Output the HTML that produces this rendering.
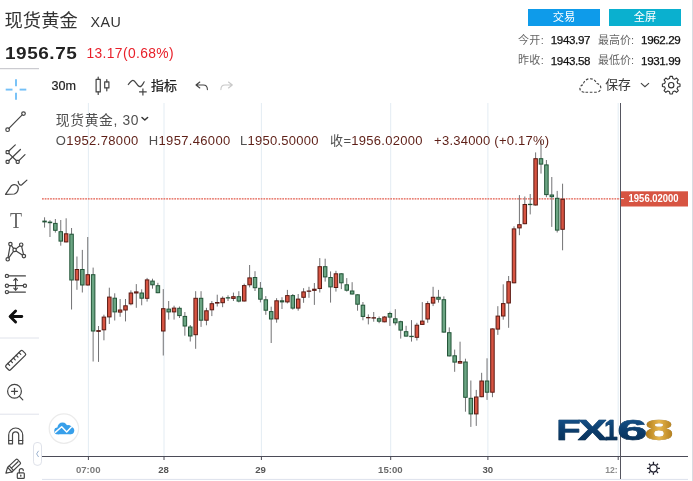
<!DOCTYPE html>
<html lang="zh-CN">
<head>
<meta charset="utf-8">
<title>现货黄金 XAU</title>
<style>
html,body{margin:0;padding:0;background:#fff;}
body{width:693px;height:481px;position:relative;overflow:hidden;font-family:"Liberation Sans", "Noto Sans CJK SC", sans-serif;color:#333;}
.abs{position:absolute;white-space:nowrap;line-height:1;}
.hdr-title{left:4.6px;top:12.3px;font-size:18.3px;color:#333;}
.hdr-code{left:90.6px;top:14.6px;font-size:14.3px;letter-spacing:0.45px;color:#333;}
.hdr-price{left:4.8px;top:45.2px;font-size:17.4px;font-weight:bold;color:#222;letter-spacing:0.5px;transform:scaleX(1.09);transform-origin:0 0;}
.hdr-chg{left:86.4px;top:47.2px;font-size:13.8px;letter-spacing:0.4px;color:#e8202a;}
.btn{top:9.2px;height:16.5px;width:72px;color:#fff;font-size:11.3px;text-align:center;line-height:16.5px;}
.btn1{left:528px;background:#0e9bea;}
.btn2{left:609px;background:#0ab0cf;}
.stat{font-size:11px;color:#666;}
.stat b{color:#111;font-weight:normal;font-size:11.6px;letter-spacing:-0.38px;-webkit-text-stroke:0.25px #111;}
.tb{font-size:12.5px;color:#222;}
.wk{stroke:#737375;stroke-width:1;}
.cr{fill:#d75442;stroke:#5b1a13;stroke-width:1;}
.cg{fill:#6ba583;stroke:#225437;stroke-width:1;}
.crd{fill:#5b1a13;}
.cgd{fill:#225437;}
.grid{stroke:#e3ecf3;stroke-width:1;}
.ic{fill:none;stroke:#444;stroke-width:1.2;stroke-linecap:round;stroke-linejoin:round;}
.icf{fill:#fff;stroke:#444;stroke-width:1.1;}
svg{position:absolute;left:0;top:0;}
svg text{font-family:"Liberation Sans", "Noto Sans CJK SC", sans-serif;}
</style>
</head>
<body>

<!-- header -->
<div class="abs hdr-title">现货黄金</div>
<div class="abs hdr-code">XAU</div>
<div class="abs hdr-price">1956.75</div>
<div class="abs hdr-chg">13.17(0.68%)</div>
<div class="abs btn btn1">交易</div>
<div class="abs btn btn2">全屏</div>
<div class="abs stat" style="left:517.9px;top:34.8px;letter-spacing:0.4px;">今开:</div>
<div class="abs stat" style="left:550.8px;top:34.3px;"><b>1943.97</b></div>
<div class="abs stat" style="left:597.9px;top:34.8px;">最高价:</div>
<div class="abs stat" style="left:641.1px;top:34.3px;"><b>1962.29</b></div>
<div class="abs stat" style="left:517.9px;top:55.4px;letter-spacing:0.4px;">昨收:</div>
<div class="abs stat" style="left:550.8px;top:54.9px;"><b>1943.58</b></div>
<div class="abs stat" style="left:597.9px;top:55.4px;">最低价:</div>
<div class="abs stat" style="left:641.1px;top:54.9px;"><b>1931.99</b></div>

<!-- top toolbar -->
<div class="abs tb" style="left:51.600px;top:80.200px;font-size:12.600px;-webkit-text-stroke:0.2px #222;">30m</div>
<div class="abs tb" style="left:151px;top:79px;font-size:13px;-webkit-text-stroke:0.25px #222;">指标</div>
<div class="abs tb" style="left:605.2px;top:79.4px;font-size:12.8px;color:#333;">保存</div>

<!-- chart + icons -->
<svg width="693" height="481" viewBox="0 0 693 481">
  <!-- separators -->
  <line x1="0" y1="68.700" x2="39" y2="68.700" stroke="#b9b9c0" stroke-width="0.900"/>
  <line x1="0" y1="338" x2="39" y2="338" stroke="#e0e3eb" stroke-width="1"/>
  <line x1="0" y1="414.2" x2="39" y2="414.2" stroke="#e0e3eb" stroke-width="1"/>
  <line x1="692.600" y1="0" x2="692.600" y2="481" stroke="#d6d9df" stroke-width="1"/>
  <line x1="42" y1="479.400" x2="688" y2="479.400" stroke="#dde1ec" stroke-width="1"/>
  <!-- grid -->
  <g class="grid">
    <line x1="88.4" y1="103" x2="88.4" y2="456"/>
    <line x1="164" y1="103" x2="164" y2="456"/>
    <line x1="261.4" y1="103" x2="261.4" y2="456"/>
    <line x1="390.7" y1="103" x2="390.7" y2="456"/>
    <line x1="487.9" y1="103" x2="487.9" y2="456"/>
    <line x1="618.2" y1="103" x2="618.2" y2="456"/>
  </g>
  <!-- last price line -->
  <line x1="42" y1="198.9" x2="620" y2="198.9" stroke="#e2594a" stroke-width="1.100" stroke-dasharray="1.750 0.950"/>
  <!-- candles -->
  <g id="candles">
<line x1="44.57" y1="217.3" x2="44.57" y2="227.6" class="wk"/>
<line x1="49.97" y1="220.2" x2="49.97" y2="237.0" class="wk"/>
<line x1="55.36" y1="219.0" x2="55.36" y2="232.6" class="wk"/>
<line x1="60.76" y1="220.0" x2="60.76" y2="245.7" class="wk"/>
<line x1="66.15" y1="218.3" x2="66.15" y2="242.4" class="wk"/>
<line x1="71.55" y1="228.0" x2="71.55" y2="309.5" class="wk"/>
<line x1="76.95" y1="256.5" x2="76.95" y2="289.8" class="wk"/>
<line x1="82.34" y1="249.9" x2="82.34" y2="292.5" class="wk"/>
<line x1="87.74" y1="237.0" x2="87.74" y2="285.5" class="wk"/>
<line x1="93.13" y1="267.6" x2="93.13" y2="361.5" class="wk"/>
<line x1="98.53" y1="326.0" x2="98.53" y2="361.9" class="wk"/>
<line x1="103.93" y1="314.7" x2="103.93" y2="340.3" class="wk"/>
<line x1="109.32" y1="287.7" x2="109.32" y2="324.0" class="wk"/>
<line x1="114.72" y1="293.3" x2="114.72" y2="320.5" class="wk"/>
<line x1="120.11" y1="299.0" x2="120.11" y2="316.8" class="wk"/>
<line x1="125.51" y1="299.0" x2="125.51" y2="321.4" class="wk"/>
<line x1="130.91" y1="290.4" x2="130.91" y2="305.3" class="wk"/>
<line x1="136.30" y1="284.1" x2="136.30" y2="307.8" class="wk"/>
<line x1="141.70" y1="289.3" x2="141.70" y2="305.3" class="wk"/>
<line x1="147.09" y1="277.9" x2="147.09" y2="301.6" class="wk"/>
<line x1="152.49" y1="278.7" x2="152.49" y2="288.7" class="wk"/>
<line x1="157.89" y1="282.8" x2="157.89" y2="293.2" class="wk"/>
<line x1="163.28" y1="289.1" x2="163.28" y2="355.5" class="wk"/>
<line x1="168.68" y1="301.0" x2="168.68" y2="319.6" class="wk"/>
<line x1="174.07" y1="305.7" x2="174.07" y2="319.6" class="wk"/>
<line x1="179.47" y1="306.5" x2="179.47" y2="318.0" class="wk"/>
<line x1="184.87" y1="312.0" x2="184.87" y2="335.7" class="wk"/>
<line x1="190.26" y1="325.0" x2="190.26" y2="341.5" class="wk"/>
<line x1="195.66" y1="291.2" x2="195.66" y2="348.8" class="wk"/>
<line x1="201.05" y1="291.2" x2="201.05" y2="326.9" class="wk"/>
<line x1="206.45" y1="307.8" x2="206.45" y2="325.3" class="wk"/>
<line x1="211.85" y1="301.0" x2="211.85" y2="316.1" class="wk"/>
<line x1="217.24" y1="294.7" x2="217.24" y2="306.5" class="wk"/>
<line x1="222.64" y1="296.4" x2="222.64" y2="307.2" class="wk"/>
<line x1="228.03" y1="295.3" x2="228.03" y2="301.0" class="wk"/>
<line x1="233.43" y1="292.6" x2="233.43" y2="301.0" class="wk"/>
<line x1="238.83" y1="291.2" x2="238.83" y2="302.4" class="wk"/>
<line x1="244.22" y1="283.7" x2="244.22" y2="301.5" class="wk"/>
<line x1="249.62" y1="265.0" x2="249.62" y2="287.4" class="wk"/>
<line x1="255.01" y1="271.2" x2="255.01" y2="291.0" class="wk"/>
<line x1="260.41" y1="282.0" x2="260.41" y2="302.4" class="wk"/>
<line x1="265.81" y1="296.1" x2="265.81" y2="314.8" class="wk"/>
<line x1="271.20" y1="306.7" x2="271.20" y2="343.0" class="wk"/>
<line x1="276.60" y1="298.2" x2="276.60" y2="322.7" class="wk"/>
<line x1="281.99" y1="297.2" x2="281.99" y2="309.0" class="wk"/>
<line x1="287.39" y1="289.9" x2="287.39" y2="303.4" class="wk"/>
<line x1="292.79" y1="294.0" x2="292.79" y2="309.6" class="wk"/>
<line x1="298.18" y1="294.0" x2="298.18" y2="310.7" class="wk"/>
<line x1="303.58" y1="288.2" x2="303.58" y2="302.8" class="wk"/>
<line x1="308.97" y1="286.8" x2="308.97" y2="297.8" class="wk"/>
<line x1="314.37" y1="283.0" x2="314.37" y2="304.9" class="wk"/>
<line x1="319.77" y1="258.1" x2="319.77" y2="292.5" class="wk"/>
<line x1="325.16" y1="258.7" x2="325.16" y2="281.6" class="wk"/>
<line x1="330.56" y1="271.4" x2="330.56" y2="302.6" class="wk"/>
<line x1="335.95" y1="270.8" x2="335.95" y2="291.6" class="wk"/>
<line x1="341.35" y1="273.3" x2="341.35" y2="289.1" class="wk"/>
<line x1="346.75" y1="278.1" x2="346.75" y2="291.6" class="wk"/>
<line x1="352.14" y1="282.2" x2="352.14" y2="294.5" class="wk"/>
<line x1="357.54" y1="294.3" x2="357.54" y2="310.7" class="wk"/>
<line x1="362.93" y1="302.0" x2="362.93" y2="320.3" class="wk"/>
<line x1="368.33" y1="314.4" x2="368.33" y2="324.4" class="wk"/>
<line x1="373.73" y1="312.0" x2="373.73" y2="321.7" class="wk"/>
<line x1="379.12" y1="316.5" x2="379.12" y2="323.2" class="wk"/>
<line x1="384.52" y1="316.1" x2="384.52" y2="322.3" class="wk"/>
<line x1="389.91" y1="311.7" x2="389.91" y2="325.9" class="wk"/>
<line x1="395.31" y1="309.2" x2="395.31" y2="325.3" class="wk"/>
<line x1="400.71" y1="320.7" x2="400.71" y2="338.6" class="wk"/>
<line x1="406.10" y1="325.8" x2="406.10" y2="336.6" class="wk"/>
<line x1="411.50" y1="320.1" x2="411.50" y2="341.6" class="wk"/>
<line x1="416.89" y1="322.8" x2="416.89" y2="340.5" class="wk"/>
<line x1="422.29" y1="302.1" x2="422.29" y2="324.9" class="wk"/>
<line x1="427.69" y1="301.2" x2="427.69" y2="322.8" class="wk"/>
<line x1="433.08" y1="286.8" x2="433.08" y2="306.1" class="wk"/>
<line x1="438.48" y1="289.9" x2="438.48" y2="302.6" class="wk"/>
<line x1="443.87" y1="296.4" x2="443.87" y2="332.6" class="wk"/>
<line x1="449.27" y1="327.4" x2="449.27" y2="356.4" class="wk"/>
<line x1="454.67" y1="349.6" x2="454.67" y2="371.8" class="wk"/>
<line x1="460.06" y1="341.7" x2="460.06" y2="363.6" class="wk"/>
<line x1="465.46" y1="358.7" x2="465.46" y2="411.7" class="wk"/>
<line x1="470.85" y1="380.5" x2="470.85" y2="426.9" class="wk"/>
<line x1="476.25" y1="389.9" x2="476.25" y2="425.9" class="wk"/>
<line x1="481.65" y1="372.8" x2="481.65" y2="397.2" class="wk"/>
<line x1="487.04" y1="358.3" x2="487.04" y2="399.9" class="wk"/>
<line x1="492.44" y1="328.4" x2="492.44" y2="397.2" class="wk"/>
<line x1="497.83" y1="306.2" x2="497.83" y2="334.9" class="wk"/>
<line x1="503.23" y1="284.3" x2="503.23" y2="319.7" class="wk"/>
<line x1="508.63" y1="276.0" x2="508.63" y2="327.8" class="wk"/>
<line x1="514.02" y1="226.3" x2="514.02" y2="283.3" class="wk"/>
<line x1="519.42" y1="195.1" x2="519.42" y2="235.2" class="wk"/>
<line x1="524.81" y1="196.5" x2="524.81" y2="224.2" class="wk"/>
<line x1="530.21" y1="194.0" x2="530.21" y2="214.4" class="wk"/>
<line x1="535.61" y1="152.4" x2="535.61" y2="205.5" class="wk"/>
<line x1="541.00" y1="140.6" x2="541.00" y2="173.6" class="wk"/>
<line x1="546.40" y1="160.0" x2="546.40" y2="197.2" class="wk"/>
<line x1="551.79" y1="177.0" x2="551.79" y2="226.9" class="wk"/>
<line x1="557.19" y1="190.9" x2="557.19" y2="232.5" class="wk"/>
<line x1="562.59" y1="183.7" x2="562.59" y2="250.3" class="wk"/>
<rect x="42.32" y="220.6" width="4.5" height="1.8" class="cgd"/>
<rect x="47.72" y="221.6" width="4.5" height="1.6" class="cgd"/>
<rect x="53.61" y="223.4" width="3.5" height="6.9" class="cg"/>
<rect x="59.01" y="231.7" width="3.5" height="9.4" class="cg"/>
<rect x="64.40" y="233.8" width="3.5" height="8.1" class="cr"/>
<rect x="69.80" y="234.2" width="3.5" height="45.8" class="cg"/>
<rect x="75.20" y="269.5" width="3.5" height="10.5" class="cr"/>
<rect x="80.59" y="269.5" width="3.5" height="15.5" class="cg"/>
<rect x="85.99" y="274.7" width="3.5" height="10.3" class="cr"/>
<rect x="91.38" y="274.7" width="3.5" height="56.3" class="cg"/>
<rect x="96.28" y="330.1" width="4.5" height="1.8" class="crd"/>
<rect x="102.18" y="317.1" width="3.5" height="12.7" class="cr"/>
<rect x="107.57" y="297.1" width="3.5" height="19.8" class="cr"/>
<rect x="112.97" y="298.2" width="3.5" height="13.7" class="cg"/>
<rect x="118.36" y="310.0" width="3.5" height="2.1" class="cr"/>
<rect x="123.76" y="305.8" width="3.5" height="4.2" class="cr"/>
<rect x="129.16" y="293.0" width="3.5" height="10.8" class="cr"/>
<rect x="134.55" y="291.9" width="3.5" height="1.1" class="cr"/>
<rect x="139.95" y="293.0" width="3.5" height="5.2" class="cg"/>
<rect x="145.34" y="279.9" width="3.5" height="18.4" class="cr"/>
<rect x="150.74" y="281.1" width="3.5" height="3.7" class="cg"/>
<rect x="156.14" y="285.7" width="3.5" height="7.0" class="cg"/>
<rect x="161.53" y="308.7" width="3.5" height="22.3" class="cr"/>
<rect x="166.93" y="309.1" width="3.5" height="2.8" class="cg"/>
<rect x="172.32" y="308.1" width="3.5" height="3.8" class="cr"/>
<rect x="177.72" y="308.3" width="3.5" height="7.3" class="cg"/>
<rect x="183.12" y="316.4" width="3.5" height="9.6" class="cg"/>
<rect x="188.51" y="327.0" width="3.5" height="9.0" class="cg"/>
<rect x="193.91" y="298.3" width="3.5" height="36.4" class="cr"/>
<rect x="199.30" y="298.3" width="3.5" height="21.9" class="cg"/>
<rect x="204.70" y="310.8" width="3.5" height="9.4" class="cr"/>
<rect x="210.10" y="303.7" width="3.5" height="6.1" class="cr"/>
<rect x="214.99" y="302.0" width="4.5" height="1.6" class="crd"/>
<rect x="220.89" y="298.3" width="3.5" height="4.4" class="cr"/>
<rect x="225.78" y="297.2" width="4.5" height="1.3" class="cgd"/>
<rect x="231.68" y="296.7" width="3.5" height="1.7" class="cr"/>
<rect x="237.08" y="296.7" width="3.5" height="4.4" class="cg"/>
<rect x="242.47" y="285.6" width="3.5" height="15.4" class="cr"/>
<rect x="247.87" y="277.9" width="3.5" height="6.9" class="cr"/>
<rect x="253.26" y="277.5" width="3.5" height="10.2" class="cg"/>
<rect x="258.66" y="288.3" width="3.5" height="10.9" class="cg"/>
<rect x="264.06" y="299.8" width="3.5" height="10.4" class="cg"/>
<rect x="269.45" y="311.6" width="3.5" height="7.4" class="cg"/>
<rect x="274.85" y="300.8" width="3.5" height="18.1" class="cr"/>
<rect x="280.24" y="300.8" width="3.5" height="1.1" class="cg"/>
<rect x="285.64" y="295.6" width="3.5" height="6.3" class="cr"/>
<rect x="291.04" y="295.6" width="3.5" height="12.5" class="cg"/>
<rect x="296.43" y="299.1" width="3.5" height="9.0" class="cr"/>
<rect x="301.83" y="291.9" width="3.5" height="5.4" class="cr"/>
<rect x="306.72" y="290.5" width="4.5" height="1.3" class="crd"/>
<rect x="312.12" y="288.7" width="4.5" height="2.2" class="crd"/>
<rect x="318.02" y="266.7" width="3.5" height="21.8" class="cr"/>
<rect x="323.41" y="266.7" width="3.5" height="10.2" class="cg"/>
<rect x="328.81" y="277.5" width="3.5" height="9.4" class="cg"/>
<rect x="334.20" y="273.8" width="3.5" height="13.7" class="cr"/>
<rect x="339.60" y="273.8" width="3.5" height="9.0" class="cg"/>
<rect x="345.00" y="284.8" width="3.5" height="5.4" class="cg"/>
<rect x="350.39" y="291.0" width="3.5" height="3.0" class="cg"/>
<rect x="355.79" y="294.8" width="3.5" height="9.4" class="cg"/>
<rect x="361.18" y="305.2" width="3.5" height="11.2" class="cg"/>
<rect x="366.08" y="317.0" width="4.5" height="1.3" class="crd"/>
<rect x="371.48" y="317.2" width="4.5" height="1.4" class="crd"/>
<rect x="377.37" y="318.7" width="3.5" height="2.5" class="cg"/>
<rect x="382.77" y="317.0" width="3.5" height="4.8" class="cr"/>
<rect x="388.16" y="313.5" width="3.5" height="3.6" class="cg"/>
<rect x="393.56" y="318.8" width="3.5" height="4.0" class="cg"/>
<rect x="398.96" y="321.7" width="3.5" height="8.4" class="cg"/>
<rect x="404.35" y="331.7" width="3.5" height="4.4" class="cg"/>
<rect x="409.25" y="335.8" width="4.5" height="1.3" class="cgd"/>
<rect x="415.14" y="325.2" width="3.5" height="12.1" class="cr"/>
<rect x="420.54" y="321.1" width="3.5" height="3.3" class="cr"/>
<rect x="425.94" y="303.6" width="3.5" height="15.4" class="cr"/>
<rect x="431.33" y="297.3" width="3.5" height="5.8" class="cr"/>
<rect x="436.73" y="297.3" width="3.5" height="1.9" class="cg"/>
<rect x="442.12" y="299.7" width="3.5" height="32.4" class="cg"/>
<rect x="447.52" y="332.7" width="3.5" height="23.2" class="cg"/>
<rect x="452.92" y="355.8" width="3.5" height="6.3" class="cg"/>
<rect x="458.31" y="361.5" width="3.5" height="1.6" class="cr"/>
<rect x="463.71" y="362.0" width="3.5" height="35.3" class="cg"/>
<rect x="469.10" y="398.3" width="3.5" height="15.6" class="cg"/>
<rect x="474.50" y="397.0" width="3.5" height="16.9" class="cr"/>
<rect x="479.90" y="381.0" width="3.5" height="15.7" class="cr"/>
<rect x="485.29" y="381.0" width="3.5" height="11.2" class="cg"/>
<rect x="490.69" y="328.9" width="3.5" height="63.3" class="cr"/>
<rect x="496.08" y="316.1" width="3.5" height="13.0" class="cr"/>
<rect x="501.48" y="303.6" width="3.5" height="12.4" class="cr"/>
<rect x="506.88" y="281.7" width="3.5" height="21.3" class="cr"/>
<rect x="512.27" y="228.9" width="3.5" height="53.9" class="cr"/>
<rect x="517.67" y="224.7" width="3.5" height="3.2" class="cr"/>
<rect x="523.06" y="204.5" width="3.5" height="19.2" class="cr"/>
<rect x="527.96" y="203.8" width="4.5" height="1.3" class="cgd"/>
<rect x="533.86" y="158.7" width="3.5" height="46.3" class="cr"/>
<rect x="539.25" y="158.7" width="3.5" height="5.4" class="cg"/>
<rect x="544.65" y="164.9" width="3.5" height="29.7" class="cg"/>
<rect x="550.04" y="195.0" width="3.5" height="1.7" class="cg"/>
<rect x="555.44" y="198.3" width="3.5" height="31.8" class="cg"/>
<rect x="560.84" y="199.3" width="3.5" height="30.0" class="cr"/>
  </g>
  <!-- legend -->
  <g font-size="13" fill="#505050">
    <text x="55.800" y="124.900" font-size="13.800" textLength="82.600" lengthAdjust="spacing">现货黄金, 30</text>
    <path d="M142 117.500L144.800 120L147.600 117.500" fill="none" stroke="#333" stroke-width="1.500" stroke-linecap="round" stroke-linejoin="round"/>
    <text x="55.8" y="144.6" textLength="82.5"><tspan>O</tspan><tspan fill="#5e1f17">1952.78000</tspan></text>
    <text x="148.8" y="144.6" textLength="81.4"><tspan>H</tspan><tspan fill="#5e1f17">1957.46000</tspan></text>
    <text x="240" y="144.6" textLength="78.4"><tspan>L</tspan><tspan fill="#5e1f17">1950.50000</tspan></text>
    <text x="330.1" y="144.6" textLength="92.3"><tspan>收=</tspan><tspan fill="#5e1f17">1956.02000</tspan></text>
    <text x="434.1" y="144.6" textLength="115" fill="#5e1f17">+3.34000 (+0.17%)</text>
  </g>
  <!-- axes -->
  <line x1="41.600" y1="456.500" x2="688" y2="456.500" stroke="#4b4b57" stroke-width="1"/>
  <line x1="620.500" y1="103" x2="620.500" y2="479" stroke="#55555f" stroke-width="1"/>
  <g stroke="#4b4b57" stroke-width="1">
    <line x1="88.4" y1="456.6" x2="88.4" y2="460"/>
    <line x1="164" y1="456.6" x2="164" y2="460"/>
    <line x1="261.4" y1="456.6" x2="261.4" y2="460"/>
    <line x1="390.7" y1="456.6" x2="390.7" y2="460"/>
    <line x1="487.9" y1="456.6" x2="487.9" y2="460"/>
    <line x1="618.2" y1="456.6" x2="618.2" y2="460"/>
  </g>
  <g font-size="9.800" font-weight="bold" fill="#777" text-anchor="middle" lengthAdjust="spacingAndGlyphs">
    <text x="88.200" y="472.900" textLength="24.600" lengthAdjust="spacingAndGlyphs" fill="#7a7a7a">07:00</text>
    <text x="163.600" y="472.900" textLength="10.700" lengthAdjust="spacingAndGlyphs" fill="#555">28</text>
    <text x="260.600" y="472.900" textLength="10.700" lengthAdjust="spacingAndGlyphs" fill="#555">29</text>
    <text x="390.400" y="472.900" textLength="24.600" lengthAdjust="spacingAndGlyphs" fill="#6a6a6a">15:00</text>
    <text x="487.800" y="472.900" textLength="10.700" lengthAdjust="spacingAndGlyphs" fill="#555">30</text>
    <text x="611.500" y="472.900" textLength="12.500" lengthAdjust="spacingAndGlyphs" fill="#8c8c8c">12:</text>
  </g>
  <!-- price label -->
  <rect x="621" y="191.3" width="67" height="15.2" fill="#d75442"/>
  <line x1="621" y1="198.6" x2="624" y2="198.6" stroke="#fff" stroke-width="1"/>
  <text x="628.600" y="202.400" font-size="10.300" font-weight="bold" fill="#fff" textLength="50" lengthAdjust="spacingAndGlyphs">1956.02000</text>

  <!-- FX168 watermark -->
  <defs>
    <linearGradient id="gb" x1="0" y1="0" x2="0" y2="1"><stop offset="0" stop-color="#1a5a94"/><stop offset="0.5" stop-color="#0c3e6e"/><stop offset="1" stop-color="#072b50"/></linearGradient>
    <linearGradient id="gg" x1="0" y1="0" x2="1" y2="0"><stop offset="0" stop-color="#a87416"/><stop offset="0.5" stop-color="#e8b64a"/><stop offset="1" stop-color="#b07c1c"/></linearGradient>
  </defs>
  <g font-weight="bold" font-size="29.400" lengthAdjust="spacingAndGlyphs" stroke-width="0.600" stroke-linejoin="round" style="filter:drop-shadow(0.6px 0.7px 0.5px rgba(0,0,0,0.35))">
    <text x="556.300" y="440.200" textLength="24.500" lengthAdjust="spacingAndGlyphs" fill="url(#gb)" stroke="url(#gb)">F</text>
    <text x="577.800" y="440.200" textLength="29.500" lengthAdjust="spacingAndGlyphs" fill="url(#gb)" stroke="url(#gb)">X</text>
    <text x="604.300" y="440.200" textLength="13.500" lengthAdjust="spacingAndGlyphs" fill="url(#gb)" stroke="url(#gb)">1</text>
    <text x="617.300" y="440.200" textLength="30" lengthAdjust="spacingAndGlyphs" fill="url(#gb)" stroke="url(#gb)">6</text>
    <text x="644.800" y="440.200" textLength="28.500" lengthAdjust="spacingAndGlyphs" fill="url(#gg)" stroke="url(#gg)">8</text>
  </g>

  <!-- TradingView logo -->
  <circle cx="63.900" cy="428.600" r="14.700" fill="#fff" stroke="#ebebeb" stroke-width="1.200"/>
  <g fill="#379fea"><circle cx="57.600" cy="430.900" r="3.350"/><circle cx="62.500" cy="427.650" r="5.050"/><circle cx="68.200" cy="428.700" r="3.600"/><circle cx="70.600" cy="430.600" r="3.650"/><rect x="57.600" y="429.500" width="13" height="4.750"/></g>
  <path d="M55 432.600L61.700 426.800L66.700 432L71.600 426.800" fill="none" stroke="#fff" stroke-width="1.450" stroke-linejoin="round"/>

  <!-- collapse handle -->
  <rect x="33.5" y="442.5" width="8" height="22.8" rx="3.5" fill="#fff" stroke="#dfe2ea" stroke-width="1"/>
  <path d="M38.6 450.8l-2 3.100l2 3.100" fill="none" stroke="#9bb2cf" stroke-width="1"/>

  <!-- LEFT TOOLBAR ICONS -->
  <!-- crosshair -->
  <g stroke="#74c0f7" stroke-width="1.900" fill="none">
    <line x1="5.700" y1="89.600" x2="12.500" y2="89.600"/><line x1="19.600" y1="89.600" x2="26.300" y2="89.600"/>
    <line x1="16" y1="79.200" x2="16" y2="86.200"/><line x1="16" y1="92.800" x2="16" y2="99.800"/>
  </g>
  <!-- trend line -->
  <g class="ic">
    <line x1="8.900" y1="128.400" x2="22.200" y2="114.900"/>
    <circle cx="7.600" cy="129.700" r="1.800"/><circle cx="23.500" cy="113.600" r="1.800"/>
  </g>
  <!-- pitchfork -->
  <g class="ic">
    <line x1="8.8" y1="151" x2="15.3" y2="144.900"/>
    <line x1="8.8" y1="160.700" x2="20.400" y2="149.500"/>
    <line x1="18.9" y1="160.700" x2="25" y2="154.600"/>
    <line x1="8.8" y1="153.400" x2="16.500" y2="160.700"/>
    <rect x="6.100" y="150.700" width="3" height="3" rx="0.8"/>
    <rect x="6.100" y="160.400" width="3" height="3" rx="0.8"/>
    <rect x="16.200" y="160.400" width="3" height="3" rx="0.8"/>
  </g>
  <!-- brush -->
  <g class="ic">
    <path d="M5.500 194.300L11.600 185.400C14.500 183.500 18.800 185 18.300 188.600C17.900 191.300 16.300 193.300 14.300 194z"/>
    <path d="M18.200 181.300C18.300 183.800 20 186 21.800 184.700L26.900 180.100"/>
  </g>
  <!-- text -->
  <text x="9.900" y="228" style="font-family:'Liberation Serif',serif" font-size="24" fill="#666" textLength="12" lengthAdjust="spacingAndGlyphs">T</text>
  <!-- pattern -->
  <g class="ic" stroke-width="1.1">
    <path d="M7.700 259.300L10.400 244.100L14.600 249.900L21.200 244.700L23.900 256.100L14.600 249.900L7.700 259.300"/>
    <circle cx="7.700" cy="259.300" r="1.700" fill="#fff"/><circle cx="10.400" cy="244.100" r="1.700" fill="#fff"/>
    <circle cx="14.600" cy="249.900" r="1.700" fill="#fff"/><circle cx="21.200" cy="244.700" r="1.700" fill="#fff"/>
    <circle cx="23.900" cy="256.100" r="1.700" fill="#fff"/>
  </g>
  <!-- measure -->
  <g class="ic" stroke-width="1.1">
    <line x1="8.500" y1="275.900" x2="25.400" y2="275.900"/>
    <line x1="8.500" y1="285.700" x2="23.200" y2="285.700"/>
    <line x1="8.500" y1="292.100" x2="25.400" y2="292.100"/>
    <circle cx="6.900" cy="275.900" r="1.600" fill="#fff"/>
    <circle cx="6.900" cy="285.700" r="1.600" fill="#fff"/>
    <circle cx="6.900" cy="292.100" r="1.600" fill="#fff"/>
    <circle cx="24.900" cy="285.700" r="1.600" fill="#fff"/>
    <line x1="15.600" y1="278.500" x2="15.600" y2="290"/>
    <path d="M13.800 280.300L15.600 278.300L17.400 280.300M13.800 288.200L15.600 290.200L17.400 288.200"/>
  </g>
  <!-- back arrow -->
  <path d="M21.800 316.500H10.800M15.600 311L10.100 316.500L15.600 322" fill="none" stroke="#111" stroke-width="2.900" stroke-linecap="round" stroke-linejoin="round"/>
  <!-- ruler -->
  <g class="ic" stroke-width="1.1" transform="rotate(-44.5 15.65 360.3)">
    <rect x="3.95" y="357.10" width="23.4" height="6.4" rx="1.4"/>
    <line x1="7.85" y1="357.10" x2="7.85" y2="359.70"/><line x1="11.75" y1="357.10" x2="11.75" y2="359.70"/><line x1="15.65" y1="357.10" x2="15.65" y2="359.70"/><line x1="19.55" y1="357.10" x2="19.55" y2="359.70"/><line x1="23.45" y1="357.10" x2="23.45" y2="359.70"/>
  </g>
  <!-- zoom -->
  <g class="ic">
    <circle cx="14.500" cy="391.300" r="6.900"/>
    <line x1="19.500" y1="396.300" x2="22.800" y2="399.800"/>
    <line x1="11.500" y1="391.300" x2="17.500" y2="391.300"/><line x1="14.500" y1="388.300" x2="14.500" y2="394.300"/>
  </g>
  <!-- magnet -->
  <g class="ic" stroke-width="1.200">
    <path d="M8.700 443.800V435a7 7 0 0 1 14 0V443.800H18.700V435a3.100 3.100 0 0 0-6.200 0V443.800z"/>
    <line x1="8.700" y1="440.500" x2="12.500" y2="440.500"/><line x1="18.700" y1="440.500" x2="22.700" y2="440.500"/>
  </g>
  <!-- pencil + lock -->
  <g class="ic" stroke-width="1.200">
    <path d="M5.900 473.200L7.600 467.400L15.800 459.600Q16.800 458.800 17.700 459.700L20.200 462.300Q21 463.200 20.100 464.100L11.900 472z"/>
    <path d="M7.600 467.400L11.900 472M9.300 465.800L13.400 470.400M11.400 468.100L18 461.700"/>
    <rect x="17.300" y="472.900" width="7" height="5.500" rx="0.900" fill="#fff"/>
    <path d="M19.300 472.900V470.600a2 2 0 0 1 4 0"/>
    <line x1="20.800" y1="475.200" x2="20.800" y2="476.200"/>
  </g>

  <!-- TOP TOOLBAR ICONS -->
  <g class="ic" stroke="#333" stroke-width="1.200" stroke-linecap="butt">
    <rect x="96.100" y="79.300" width="4.200" height="12.600"/>
    <line x1="98.200" y1="77.100" x2="98.200" y2="79.300"/><line x1="98.200" y1="91.900" x2="98.200" y2="94.400"/>
    <rect x="104.700" y="81.900" width="4.200" height="6"/>
    <line x1="106.800" y1="79.700" x2="106.800" y2="81.900"/><line x1="106.800" y1="87.900" x2="106.800" y2="90.800"/>
  </g>
  <g class="ic" stroke="#333" stroke-width="1.250">
    <path d="M128.300 84.500C129.800 82.500 131.300 80.300 133 80.300C135.500 80.300 137.200 86.700 139.900 86.700C141.600 86.700 142.800 84 144.200 81.800"/>
    <path d="M142.900 88.500V95.400M139.100 91.900H146.700" stroke-linecap="butt"/>
  </g>
  <!-- undo / redo -->
  <path d="M199.800 82L196 85L199.800 88M196.200 85H203.300C206 85 207.400 87 207.400 89.600" fill="none" stroke="#444" stroke-width="1.100" stroke-linecap="round" stroke-linejoin="round"/>
  <path d="M228.500 82L232.300 85L228.500 88M232.100 85H225C222.300 85 220.900 87 220.900 89.600" fill="none" stroke="#c8c8c8" stroke-width="1.100" stroke-linecap="round" stroke-linejoin="round"/>
  <!-- cloud save -->
  <path d="M584.300 92.200C581.700 92.200 579.900 90.600 579.900 88.500C579.900 86.600 581.200 85.200 583.100 84.800C583.600 81.400 586.400 78.700 590.200 78.700C593.300 78.700 595.700 80.600 596.600 83.500C599.000 83.700 600.800 85.500 600.800 87.800C600.800 90.300 598.800 92.200 596.300 92.200z" fill="none" stroke="#444" stroke-width="1.150" stroke-dasharray="2.600 1.700"/>
  <path d="M640.900 83.100L644.950 86.700L649 83.100" fill="none" stroke="#444" stroke-width="1.150"/>
  <!-- gear -->
  <g fill="none" stroke="#333" stroke-width="1.100" stroke-linejoin="round">
    <circle cx="671.200" cy="85.200" r="2.700"/>
    <path d="M677.79 83.51L680.01 83.95L680.01 86.45L677.79 86.89L677.05 88.66L678.32 90.54L676.54 92.32L674.66 91.05L672.89 91.79L672.45 94.01L669.95 94.01L669.51 91.79L667.74 91.05L665.86 92.32L664.08 90.54L665.35 88.66L664.61 86.89L662.39 86.45L662.39 83.95L664.61 83.51L665.35 81.74L664.08 79.86L665.86 78.08L667.74 79.35L669.51 78.61L669.95 76.39L672.45 76.39L672.89 78.61L674.66 79.35L676.54 78.08L678.32 79.86L677.05 81.74z"/>
  </g>
  <!-- bottom-right settings sun -->
  <g fill="none" stroke="#1c1c2a" stroke-width="1.300">
    <circle cx="653.45" cy="468.35" r="3.700"/>
    <path d="M657.75 468.35L659.95 468.35M656.49 471.39L658.05 472.95M653.45 472.65L653.45 474.85M650.41 471.39L648.85 472.95M649.15 468.35L646.95 468.35M650.41 465.31L648.85 463.75M653.45 464.05L653.45 461.85M656.49 465.31L658.05 463.75"/>
  </g>
</svg>
</body>
</html>
